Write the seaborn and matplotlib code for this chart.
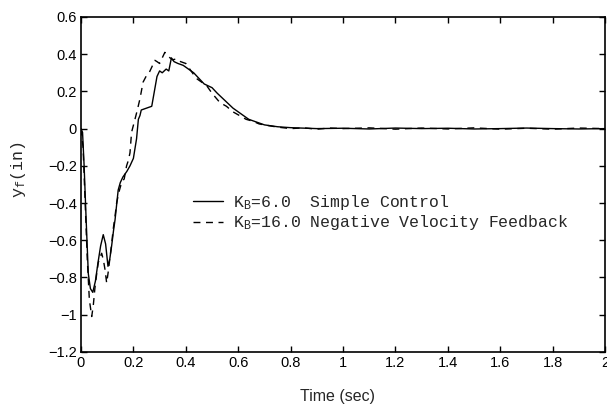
import numpy as np
import pandas as pd
import matplotlib
matplotlib.use("Agg")
import matplotlib.pyplot as plt
import seaborn as sns

# ---- data ----
t_simple = [0, 0.006, 0.012, 0.02, 0.028, 0.036, 0.045, 0.055, 0.065, 0.075, 0.085,
            0.094, 0.103, 0.11, 0.117, 0.124, 0.13, 0.136, 0.142, 0.15, 0.16, 0.175,
            0.187, 0.2, 0.212, 0.219, 0.225, 0.23, 0.25, 0.27, 0.28, 0.29, 0.30, 0.31,
            0.325, 0.335, 0.345, 0.355, 0.37, 0.39, 0.41, 0.43, 0.45, 0.47, 0.5, 0.52,
            0.55, 0.58, 0.61, 0.64, 0.67, 0.7, 0.75, 0.8, 0.9, 1.0, 1.1, 1.2, 1.3, 1.4,
            1.5, 1.6, 1.7, 1.8, 1.9, 2.0]
y_simple = [0, -0.02, -0.2, -0.5, -0.78, -0.86, -0.88, -0.82, -0.72, -0.63, -0.57,
            -0.62, -0.74, -0.70, -0.63, -0.55, -0.49, -0.41, -0.33, -0.29, -0.26, -0.23,
            -0.2, -0.16, -0.055, 0.05, 0.07, 0.1, 0.11, 0.12, 0.2, 0.28, 0.31, 0.3,
            0.32, 0.31, 0.38, 0.36, 0.35, 0.34, 0.32, 0.3, 0.27, 0.24, 0.22, 0.19,
            0.15, 0.11, 0.08, 0.05, 0.035, 0.02, 0.01, 0.005, 0.0, 0.002, -0.002, 0.003,
            0.0, 0.002, -0.002, 0.0, 0.003, 0.0, -0.002, 0.0]

t_velocity = [0, 0.008, 0.016, 0.024, 0.032, 0.041, 0.047, 0.053, 0.06, 0.066, 0.073,
              0.079, 0.086, 0.092, 0.098, 0.104, 0.11, 0.117, 0.123, 0.13, 0.136, 0.145,
              0.155, 0.165, 0.174, 0.181, 0.187, 0.193, 0.206, 0.215, 0.225, 0.237,
              0.25, 0.26, 0.27, 0.282, 0.29, 0.30, 0.31, 0.32, 0.33, 0.34, 0.35, 0.365,
              0.38, 0.40, 0.42, 0.44, 0.46, 0.48, 0.50, 0.53, 0.555, 0.58, 0.605, 0.63,
              0.655, 0.68, 0.72, 0.75, 0.8, 0.85, 0.9, 0.95, 1.0, 1.1, 1.2, 1.3, 1.4,
              1.5, 1.6, 1.7, 1.8, 1.9, 2.0]
y_velocity = [0, -0.1, -0.4, -0.7, -0.92, -1.01, -0.95, -0.86, -0.78, -0.72, -0.69,
              -0.67, -0.71, -0.76, -0.83, -0.77, -0.70, -0.62, -0.54, -0.47, -0.40, -0.34,
              -0.29, -0.27, -0.2, -0.17, -0.13, -0.02, 0.05, 0.1, 0.16, 0.25,
              0.285, 0.3, 0.33, 0.367, 0.36, 0.35, 0.38, 0.41, 0.39, 0.38, 0.37, 0.375,
              0.36, 0.35, 0.31, 0.27, 0.25, 0.23, 0.19, 0.14, 0.12, 0.09, 0.07, 0.05,
              0.04, 0.025, 0.015, 0.008, 0.0, 0.004, -0.003, 0.003, 0.0, 0.004, -0.003,
              0.003, -0.002, 0.004, -0.003, 0.002, -0.003, 0.003, 0.0]

labels = ["$\\mathregular{K_B}$=6.0  Simple Control",
          "$\\mathregular{K_B}$=16.0 Negative Velocity Feedback"]

x_ticks = [0, 0.2, 0.4, 0.6, 0.8, 1, 1.2, 1.4, 1.6, 1.8, 2]
x_ticklabels = ["0", "0.2", "0.4", "0.6", "0.8", "1", "1.2", "1.4", "1.6", "1.8", "2"]
y_ticks = [-1.2, -1, -0.8, -0.6, -0.4, -0.2, 0, 0.2, 0.4, 0.6]
y_ticklabels = ["\u22121.2", "\u22121", "\u22120.8", "\u22120.6", "\u22120.4", "\u22120.2",
                "0", "0.2", "0.4", "0.6"]

df = pd.concat([
    pd.DataFrame({"t": t_simple, "y": y_simple, "series": labels[0]}),
    pd.DataFrame({"t": t_velocity, "y": y_velocity, "series": labels[1]}),
], ignore_index=True)

sns.set_style("ticks")
plt.rcParams["font.family"] = ["Liberation Sans", "DejaVu Sans"]
plt.rcParams["mathtext.fontset"] = "custom"
plt.rcParams["mathtext.rm"] = "Liberation Serif"
plt.rcParams["mathtext.it"] = "Liberation Serif:italic"

fig = plt.figure(figsize=(6.07, 4.04), dpi=100)
ax = fig.add_axes([0.1334, 0.129, 0.8636, 0.829])

sns.lineplot(data=df, x="t", y="y", hue="series", style="series",
             palette=["black", "black"], dashes=[(None, None), (5, 4)],
             linewidth=1.0, sort=False, estimator=None, ax=ax)

ax.set_xlim(0, 2)
ax.set_ylim(-1.2, 0.6)
ax.set_xticks(x_ticks)
ax.set_xticklabels(x_ticklabels)
ax.set_yticks(y_ticks)
ax.set_yticklabels(y_ticklabels)
ax.tick_params(direction="in", length=4, width=1, top=True, right=True,
               labelsize=10.5, colors="black", pad=3)
for s in ax.spines.values():
    s.set_visible(True)
    s.set_color("black")
    s.set_linewidth(1.2)

ax.set_xlabel("Time (sec)", fontsize=11.5)
ax.xaxis.set_label_coords(0.49, -0.112)
ax.set_ylabel("y$_\\mathregular{f}$(in)", fontsize=12, family="Liberation Mono")
ax.yaxis.set_label_coords(-0.101, 0.545)

leg = ax.legend(loc="center left", bbox_to_anchor=(0.214, 0.416), frameon=False,
                borderpad=0, borderaxespad=0,
                handlelength=1.8, handletextpad=0.6, labelspacing=0.1,
                prop={"family": "Liberation Mono", "size": 11.9})
for h in leg.get_lines():
    h.set_linewidth(1.0)

fig.savefig("out.png", dpi=100)
